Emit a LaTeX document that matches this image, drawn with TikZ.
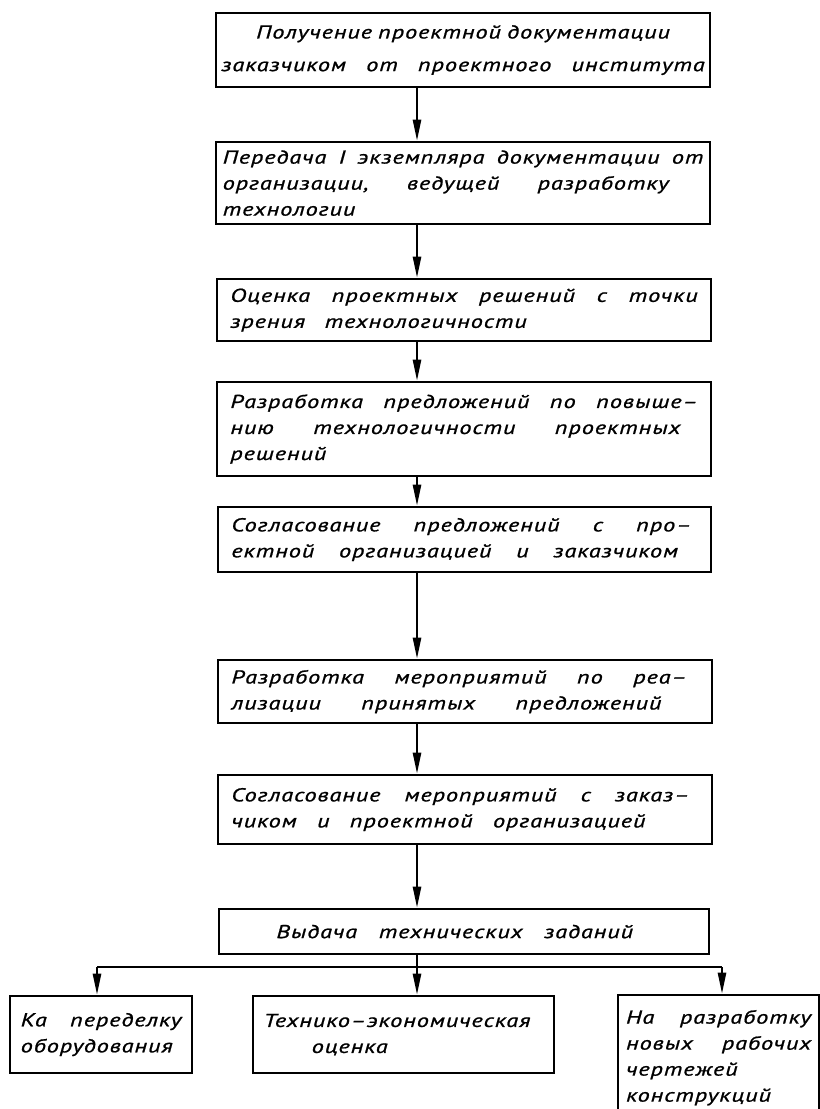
\documentclass[tikz,border=0pt]{standalone}
\usepackage{fontspec}
\usetikzlibrary{arrows.meta}
\newfontfamily\gost{PT Sans}[FakeStretch=1.3,LetterSpace=5,WordSpace=1.3,FakeBold=1]

\begin{document}
\begin{tikzpicture}[x=0.75pt,y=-0.75pt,
  every node/.style={font=\gost\itshape\fontsize{14}{19.5}\selectfont},
  blok/.style={draw,line width=1.6pt,anchor=north west,inner xsep=10pt,inner ysep=0pt,align=left},
  strelka/.style={line width=1.9pt,-{Triangle[length=16pt,width=6pt]}}]
\useasboundingbox (0,0) rectangle (820,1109);
\clip (0,0) rectangle (820,1109);

\coordinate (os) at (417,0);
\coordinate (vl) at (97,967);
\coordinate (vr) at (722,967);

\node[blok,align=center,inner xsep=4pt,text width=362.5pt,minimum height=55.5pt] (b1) at (215,12)
  {Получение проектной документации\\[5pt]заказчиком\hfill от\hfill проектного\hfill института};
\node[blok,inner xsep=5pt,text width=360.5pt,minimum height=61.5pt] (b2) at (215,141)
  {Передача\hfill I\hfill экземпляра\hfill документации\hfill от\\
   организации,\hfill ведущей\hfill разработку\hspace*{26pt}\null\\технологии};
\node[blok,text width=350.5pt,minimum height=46.5pt] (b3) at (216,278)
  {Оценка\hfill проектных\hfill решений\hfill с\hfill точки\\зрения\hspace{10pt} технологичности};
\node[blok,text width=350.5pt,minimum height=70.5pt] (b4) at (216,381)
  {Разработка\hfill предложений\hfill по\hfill повыше–\\
   нию\hfill технологичности\hfill проектных\hspace*{13pt}\null\\решений};
\node[blok,text width=350pt,minimum height=48.75pt] (b5) at (217,506)
  {Согласование\hfill предложений\hfill с\hfill про–\hspace*{5pt}\null\\
   ектной\hfill организацией\hfill и\hfill заказчиком\hspace*{15pt}\null};
\node[blok,text width=350.5pt,minimum height=47.25pt] (b6) at (217,659)
  {Разработка\hfill мероприятий\hfill по\hfill реа–\hspace*{9pt}\null\\
   лизации\hfill принятых\hfill предложений\hspace*{28pt}\null};
\node[blok,text width=350.5pt,minimum height=51.75pt] (b7) at (217,774)
  {Согласование\hfill мероприятий\hfill с\hfill заказ–\hspace*{7pt}\null\\
   чиком\hfill и\hfill проектной\hfill организацией\hspace*{40pt}\null};
\node[blok,text width=347.5pt,minimum height=33.75pt] (b8) at (218,908)
  {\hspace*{33pt}Выдача\hfill технических\hfill заданий\hspace*{47pt}\null};

\node[blok,inner xsep=8pt,text width=120.5pt,minimum height=57.75pt] (n1) at (9,995)
  {Ка\hfill переделку\\оборудования};
\node[blok,inner xsep=8pt,text width=209.75pt,minimum height=57.75pt] (n2) at (252,995)
  {Технико–экономическая\\\hspace*{36pt}оценка};
\node[blok,inner xsep=6pt,text width=138.75pt,minimum height=94pt] (n3) at (617,994)
  {На\hfill разработку\\новых\hfill рабочих\\чертежей\\конструкций};

\draw[strelka] (b1.south -| os) -- (b2.north -| os);
\draw[strelka] (b2.south -| os) -- (b3.north -| os);
\draw[strelka] (b3.south -| os) -- (b4.north -| os);
\draw[strelka] (b4.south -| os) -- (b5.north -| os);
\draw[strelka] (b5.south -| os) -- (b6.north -| os);
\draw[strelka] (b6.south -| os) -- (b7.north -| os);
\draw[strelka] (b7.south -| os) -- (b8.north -| os);
\draw[strelka] (b8.south -| os) -- (n2.north -| os);
\draw[line width=1.9pt] (vl) -- (vr);
\draw[strelka] (vl) -- (n1.north -| vl);
\draw[strelka] (vr) -- (n3.north -| vr);
\end{tikzpicture}
\end{document}
